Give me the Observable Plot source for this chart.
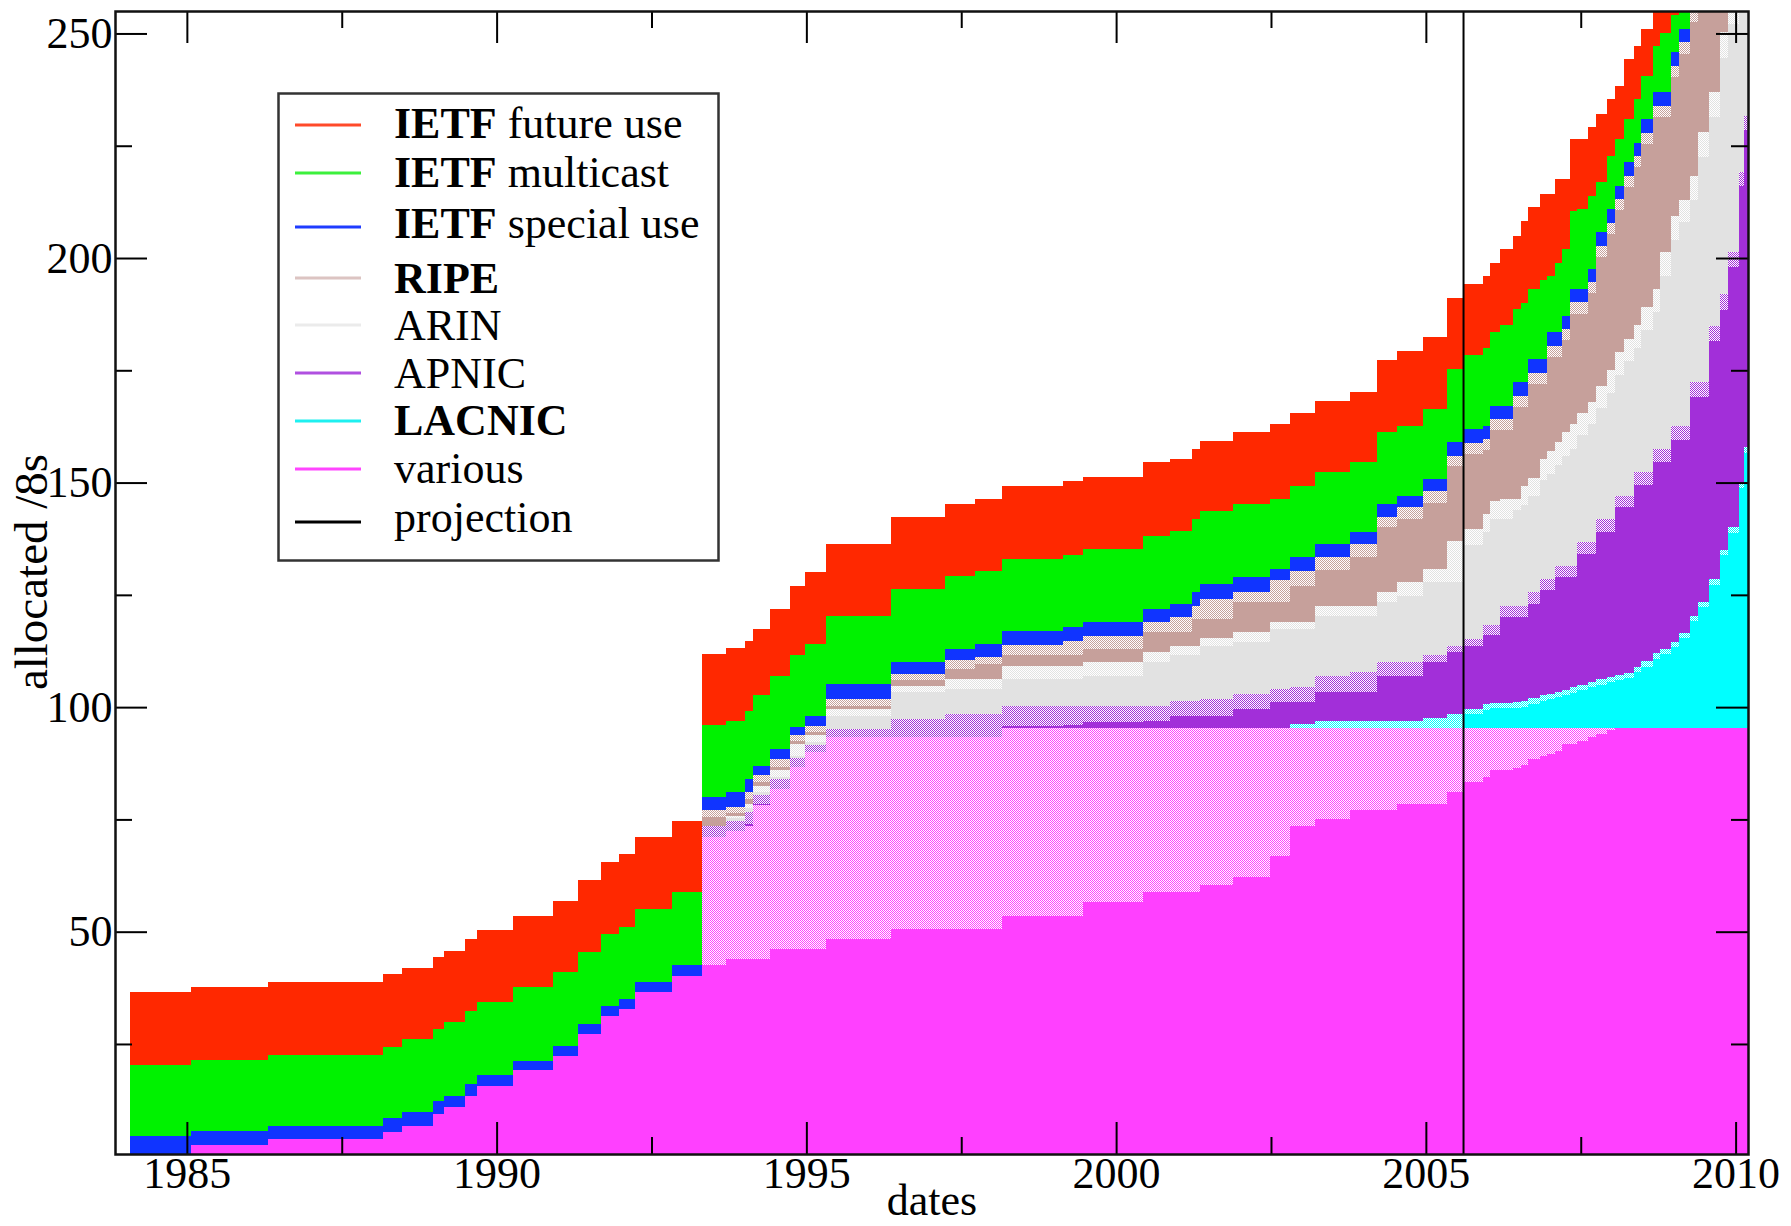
<!DOCTYPE html>
<html><head><meta charset="utf-8">
<script src="https://cdn.jsdelivr.net/npm/d3@7"></script>
<script src="https://cdn.jsdelivr.net/npm/@observablehq/plot@0.6"></script>
<style>
body{margin:0;background:#fff;}
#wrap{position:relative;width:1791px;height:1226px;}
#legend{position:absolute;left:277px;top:92px;}
</style></head><body>
<div id="wrap"><div id="chart"></div></div>
<script>
// ---- data (step series, value holds until next date) ----
const dates = [1984.08,1985.07,1986.31,1988.16,1988.47,1988.97,1989.15,1989.49,1989.68,1990.26,
 1990.91,1991.32,1991.69,1991.97,1992.24,1992.83,1993.31,1993.71,1994.01,1994.14,
 1994.41,1994.73,1994.98,1995.31,1996.37,1997.23,1997.73,1998.16,1999.15,1999.47,
 2000.44,2000.87,2001.22,2001.35,2001.89,2002.49,2002.81,2003.21,2003.78,2004.21,
 2004.53,2004.96,2005.34,2005.62,2005.92,2006.04,2006.2,2006.41,2006.53,2006.65,
 2006.84,2006.96,2007.08,2007.2,2007.32,2007.44,2007.62,2007.75,2007.93,2008.05,
 2008.2,2008.36,2008.48,2008.66,2008.78,2008.96,2009.09,2009.27,2009.39,2009.57,
 2009.75,2009.88,2010.05,2010.14,2010.2];

// cumulative upper edges of each band (bottom to top)
const variousSolid = [0,2.4,3.9,5.4,6.8,9.4,10.9,13.5,15.7,19.1,
 22.4,27.2,31.3,32.8,36.5,40.2,42.5,44,44,44,
 46.2,46.2,46.2,48.4,50.6,50.6,50.6,53.6,53.6,56.6,
 58.8,58.8,58.8,60.5,62.1,66.9,73.6,75.1,77,77,
 78.4,78.4,81,83.3,84.5,85.9,85.9,86.5,87.2,88.4,
 89.2,89.6,90.3,91.8,91.8,92.4,93.3,94,95,95.3,
 95.3,95.3,95.3,95.3,95.3,95.3,95.3,95.3,95.3,95.3,
 95.3,95.3,95.3,95.3,95.3];
const variousTop = [0,2.4,3.9,5.4,6.8,9.4,10.9,13.5,15.7,19.1,
 22.4,27.2,31.3,32.8,36.5,40.2,71,72.5,73.5,78.1,
 81.8,86.6,90,93.3,93.3,93.3,93.3,95.3,95.3,95.3,
 95.3,95.3,95.3,95.3,95.3,95.3,95.3,95.3,95.3,95.3,
 95.3,95.3,95.3,95.3,95.3,95.3,95.3,95.3,95.3,95.3,
 95.3,95.3,95.3,95.3,95.3,95.3,95.3,95.3,95.3,95.3,
 95.3,95.3,95.3,95.3,95.3,95.3,95.3,95.3,95.3,95.3,
 95.3,95.3,95.3,95.3,95.3];
const lacnicSolid = [0,2.4,3.9,5.4,6.8,9.4,10.9,13.5,15.7,19.1,
 22.4,27.2,31.3,32.8,36.5,40.2,71,72.5,73.5,78.1,
 81.8,86.6,90,93.3,93.3,93.3,93.3,95.3,95.3,95.3,
 95.3,95.3,95.3,95.3,95.3,95.3,95.3,95.3,95.3,95.3,
 95.3,95.3,95.3,98.5,99.4,99.8,99.8,99.9,100.1,100.8,
 101.4,101.8,102.2,102.7,103.2,103.8,104.5,105,105.6,106,
 106.5,107.8,109,110.8,111.8,113.3,115.3,119.2,122.3,127.3,
 133.8,138.8,148.8,156.5,158.8];
const lacnicTop = [0,2.4,3.9,5.4,6.8,9.4,10.9,13.5,15.7,19.1,
 22.4,27.2,31.3,32.8,36.5,40.2,71,72.5,73.5,78.1,
 81.8,86.6,90,93.3,93.3,93.3,93.3,95.3,95.3,95.3,
 95.3,95.3,95.3,95.3,95.3,95.3,96.3,97,97,97,
 97,97.5,98.5,99.6,100.6,101,101,101.1,101.3,102,
 102.6,103,103.4,103.9,104.4,105,105.7,106.2,106.8,107.2,
 107.7,109,110.2,112,113,114.5,116.5,120.4,123.5,128.5,
 135,140,150,158,160];
const apnicSolid = [0,2.4,3.9,5.4,6.8,9.4,10.9,13.5,15.7,19.1,
 22.4,27.2,31.3,32.8,36.5,40.2,71,72.5,74,78.5,
 81.8,86.6,90,93.3,93.3,93.3,93.3,95.8,96,96.6,
 97,98.1,98.1,98.1,99.6,101.1,101.1,103.3,103.3,107,
 107,110,112.2,113.7,116,116,120,120,120,123,
 126,126,129,129,129,134,134,139,139,144.5,
 144.5,149.5,149.5,154.5,154.5,159.5,159.5,169,169,181.5,
 188.5,198,216,228.5,228.5];
const apnicTop = [0,2.4,3.9,5.4,6.8,9.4,10.9,13.5,15.7,19.1,
 22.4,27.2,31.3,32.8,36.5,40.2,73.5,74.7,76.7,80.5,
 84,88.6,91.5,95.1,97.4,98.5,98.5,100.3,100.3,100.3,
 100.3,101.4,101.4,101.8,102.9,104,104.4,107,107.8,110,
 110,111.5,113.7,115.2,118.2,118.2,122.6,122.6,122.6,125.6,
 128.5,128.5,131.5,131.5,131.5,136.7,136.7,141.9,141.9,147.1,
 147.1,152.3,152.3,157.5,157.5,162.7,162.7,172.3,172.3,184.9,
 192,201.3,219.1,231.7,231.7];
const arinSolid = [0,2.4,3.9,5.4,6.8,9.4,10.9,13.5,15.7,19.1,
 22.4,27.2,31.3,32.8,36.5,40.2,73.5,75.3,77.5,81.1,
 84.4,89.2,92.2,98,103.3,104,104,106.3,106.3,107,
 110,111.5,111.5,113.5,114.4,117.4,117.4,120.4,120.4,123.3,
 124.8,127.8,127.8,136,139,141.9,141.9,144,145,147,
 150.5,152,154,156,157.5,160.5,163,166.5,170,174,
 177,180,184,188,196,204,208,213,222.5,231.5,
 244.5,252,258,260,260];
const arinTop = [0,2.4,3.9,5.4,6.8,9.4,10.9,13.5,15.7,19.1,
 22.4,27.2,31.3,32.8,36.5,40.2,73.5,75.8,78.5,82.5,
 86,91.8,93.8,99.5,104.8,106.3,106.3,109.2,109.2,110,
 112.2,113.7,113.7,115.5,116.7,118.9,118.9,122.6,122.6,125.6,
 127.8,130.8,137.1,139.7,143,146,146.4,146.4,149.3,151,
 155.2,157,159,161.2,163,165.6,168,171.6,175,179,
 182,185,189,193.1,201.3,209.4,213,218.2,228,236.9,
 250.3,258,260,260,260];
const ripeSolid = [0,2.4,3.9,5.4,6.8,9.4,10.9,13.5,15.7,19.1,
 22.4,27.2,31.3,32.8,36.5,40.2,75.5,76.5,79.5,83.3,
 86.6,92.5,94.4,100.3,106,108.5,109.5,111.5,111.5,113,
 116.7,116.7,119.6,119.6,123.3,123.3,127,130.5,133.5,140,
 142,145.5,153.8,156.4,157.2,161.6,161.6,166.8,166.8,172,
 172,178,178,181.7,187.6,187.6,192.1,200.2,205.4,210.6,
 215.8,220.2,225.4,231.4,231.4,240.3,245.5,252.5,260,260,
 260,260,260,260,260];
const ripeTop = [0,2.4,3.9,5.4,6.8,9.4,10.9,13.5,15.7,19.1,
 22.4,27.2,31.3,32.8,36.5,40.2,77,77.8,81,84.8,
 88.5,93.7,95.9,101.8,107.4,110.4,111.1,113.9,114.8,115.9,
 118.9,120,122.6,124.1,125.6,128.2,130.4,133.4,136.4,142.3,
 144.5,148.2,156,158.9,159.7,164.1,164.1,169.3,169.3,174.5,
 174.5,180.5,180.5,184.2,190.1,190.1,194.6,202.7,207.9,213.1,
 218.3,222.7,227.9,233.9,233.9,242.8,248,255,260,260,
 260,260,260,260,260];
const ietfSpecialTop = [4.4,5.6,6.8,8.5,9.8,12.4,13.5,16.1,18.1,21.3,
 24.6,29.5,33.5,35,38.8,42.5,79.9,81,84,87,
 90.7,95.5,98.1,105.2,110,113,114.1,117,117.8,118.9,
 121.9,123,125.6,127.4,128.9,130.8,133.4,136.4,138.9,145.2,
 147.1,150.8,159,161.9,162.7,167.1,167.1,172.3,172.3,177.5,
 177.5,183.5,183.5,187.2,193.1,193.1,197.6,205.7,210.9,216.1,
 221.3,225.7,230.9,236.9,236.9,245.8,251,258,260,260,
 260,260,260,260,260];
const ietfMulticastTop = [20.4,21.5,22.6,24.4,26,28.4,29.9,32.3,34.3,37.6,
 41,45.4,49.5,51,55.1,58.8,96.1,97,99.2,102.6,
 107,111.5,114.1,120.4,126.3,129.3,130.4,133,133.9,135.2,
 138.2,139.3,141.9,143.7,145.2,146.3,149.3,152.3,154.5,161.2,
 162.5,166.4,175.3,178.3,180,183.5,185,188.6,190,193.1,
 195,196.1,199,202,210.5,211,213.9,216.9,222.8,226.5,
 230.9,235.4,240.6,247.3,250,254,260,260,260,260,
 260,260,260,260,260];
const ietfFutureTop = [36.5,37.6,38.8,40.6,41.9,44.3,45.8,48.4,50.4,53.6,
 56.9,61.4,65.5,67.3,71,74.7,111.8,113.1,114.8,117.4,
 121.9,127,130,136.4,142.3,145.3,146.4,149.3,150.4,151.2,
 154.5,155.3,157.5,159.3,161.2,163,165.6,168.2,170.1,177.2,
 179.4,182.5,191.2,194.2,196.1,199,202,205,208.3,211.3,
 214.2,214.2,217.6,217.6,226.5,226.5,229.1,232.1,235.4,238.4,
 244.3,247.3,251,260,260,260,260,260,260,260,
 260,260,260,260,260];

const projectionDate = [2005.6];
const xTicksMajor = [1985, 1990, 1995, 2000, 2005, 2010];
const xTicksMinor = [1987.5, 1992.5, 1997.5, 2002.5, 2007.5];
const yTicksMajor = [50, 100, 150, 200, 250];
const yTicksMinor = [25, 75, 125, 175, 225];

const legendBold = ["IETF", "IETF", "IETF", "RIPE", "", "", "LACNIC", "", ""];
const legendRest = [" future use", " multicast", " special use", "", "ARIN", "APNIC", "", "various", "projection"];
const legendColors = ["#ff4a2a", "#3cf03c", "#1f3cff", "#dcc4c2", "#ebebeb", "#b050e0", "#1ef0f0", "#ff45ff", "#000000"];

// ---- styling ----
const C = {various:"#ff40ff", lacnic:"#00ffff", apnic:"#a22fd9", arin:"#e2e2e2", ripe:"#c6a09b",
           special:"#1034ff", multicast:"#00f200", future:"#ff2800"};
const FONT = "'Liberation Serif','Times New Roman',serif";

// hatch (dither) patterns
const defs = d3.select("body").append("svg").attr("width",0).attr("height",0)
  .style("position","absolute").append("defs");
for (const k of ["various","lacnic","apnic","arin","ripe"]) {
  const p = defs.append("pattern").attr("id","h-"+k).attr("width",2).attr("height",2)
    .attr("patternUnits","userSpaceOnUse");
  p.append("rect").attr("width",2).attr("height",2).attr("fill","#fff");
  p.append("rect").attr("width",1).attr("height",1).attr("fill",C[k]);
  p.append("rect").attr("x",1).attr("y",1).attr("width",1).attr("height",1).attr("fill",C[k]);
}

const W = 1791, H = 1226, mL = 115, mR = 43, mT = 11, mB = 72;
const fW = W - mL - mR, fH = H - mT - mB;
const idx = d3.range(dates.length);

const layers = [
  [null, variousSolid, C.various],
  [variousSolid, variousTop, "url(#h-various)"],
  [variousTop, lacnicSolid, C.lacnic],
  [lacnicSolid, lacnicTop, "url(#h-lacnic)"],
  [lacnicTop, apnicSolid, C.apnic],
  [apnicSolid, apnicTop, "url(#h-apnic)"],
  [apnicTop, arinSolid, C.arin],
  [arinSolid, arinTop, "url(#h-arin)"],
  [arinTop, ripeSolid, C.ripe],
  [ripeSolid, ripeTop, "url(#h-ripe)"],
  [ripeTop, ietfSpecialTop, C.special],
  [ietfSpecialTop, ietfMulticastTop, C.multicast],
  [ietfMulticastTop, ietfFutureTop, C.future]
];

const chart = Plot.plot({
  width: W, height: H,
  marginLeft: mL, marginRight: mR, marginTop: mT, marginBottom: mB,
  x: {domain: [1983.84, 2010.2]},
  y: {domain: [0.5, 255]},
  style: {fontFamily: FONT, fontSize: "44px", background: "#fff", color: "#000", overflow: "visible"},
  marks: [
    ...layers.map(([lo, hi, fill]) => Plot.areaY(idx, {
      x: i => dates[i], y1: i => lo ? lo[i] : 0, y2: i => hi[i],
      curve: "step-after", fill, clip: true, shapeRendering: "crispEdges"
    })),
    Plot.ruleX(projectionDate, {stroke: "#000", strokeWidth: 2}),
    Plot.tickX(xTicksMajor, {x: d => d, insetTop: fH - 32, stroke: "#000", strokeWidth: 2}),
    Plot.tickX(xTicksMajor, {x: d => d, insetBottom: fH - 32, stroke: "#000", strokeWidth: 2}),
    Plot.tickX(xTicksMinor, {x: d => d, insetTop: fH - 17, stroke: "#000", strokeWidth: 2}),
    Plot.tickX(xTicksMinor, {x: d => d, insetBottom: fH - 17, stroke: "#000", strokeWidth: 2}),
    Plot.tickY(yTicksMajor, {y: d => d, insetRight: fW - 32, stroke: "#000", strokeWidth: 2}),
    Plot.tickY(yTicksMajor, {y: d => d, insetLeft: fW - 32, stroke: "#000", strokeWidth: 2}),
    Plot.tickY(yTicksMinor, {y: d => d, insetRight: fW - 17, stroke: "#000", strokeWidth: 2}),
    Plot.tickY(yTicksMinor, {y: d => d, insetLeft: fW - 17, stroke: "#000", strokeWidth: 2}),
    Plot.axisX(xTicksMajor, {tickSize: 0, tickPadding: 2, tickFormat: d3.format("d"), fontSize: 44, label: null}),
    Plot.axisY(yTicksMajor, {tickSize: 0, tickPadding: 3, fontSize: 44, label: null}),
    Plot.frame({stroke: "#111", strokeWidth: 2.5}),
    Plot.text(["dates"], {frameAnchor: "bottom", dy: 60, lineAnchor: "bottom", textAnchor: "middle", fontSize: 44}),
    Plot.text(["allocated /8s"], {frameAnchor: "left", rotate: -90, dx: -69, dy: -11, lineAnchor: "bottom", textAnchor: "middle", fontSize: 47})
  ]
});
document.getElementById("chart").append(chart);

// legend box (inside plot area, top-left)
const lg = d3.select("#wrap").append("svg").attr("id","legend")
  .attr("width", 444).attr("height", 472);
lg.append("rect").attr("x",1.5).attr("y",1.5).attr("width",440).attr("height",467)
  .attr("fill","#fff").attr("stroke","#333").attr("stroke-width",2.5);
const baselines = [46, 95, 146, 201, 248, 296, 343, 391, 440];
const lineYs = [33, 81, 135, 186, 233, 281, 329, 377, 430];
legendRest.forEach((rest, i) => {
  lg.append("line").attr("x1",18).attr("x2",84).attr("y1",lineYs[i]).attr("y2",lineYs[i])
    .attr("stroke", legendColors[i]).attr("stroke-width", 3);
  const t = lg.append("text").attr("x",117).attr("y",baselines[i])
    .style("font-family", FONT).style("font-size","44px").attr("fill","#000");
  if (legendBold[i]) t.append("tspan").style("font-weight","bold").text(legendBold[i]);
  if (rest) t.append("tspan").text(rest);
});
</script>
</body></html>
